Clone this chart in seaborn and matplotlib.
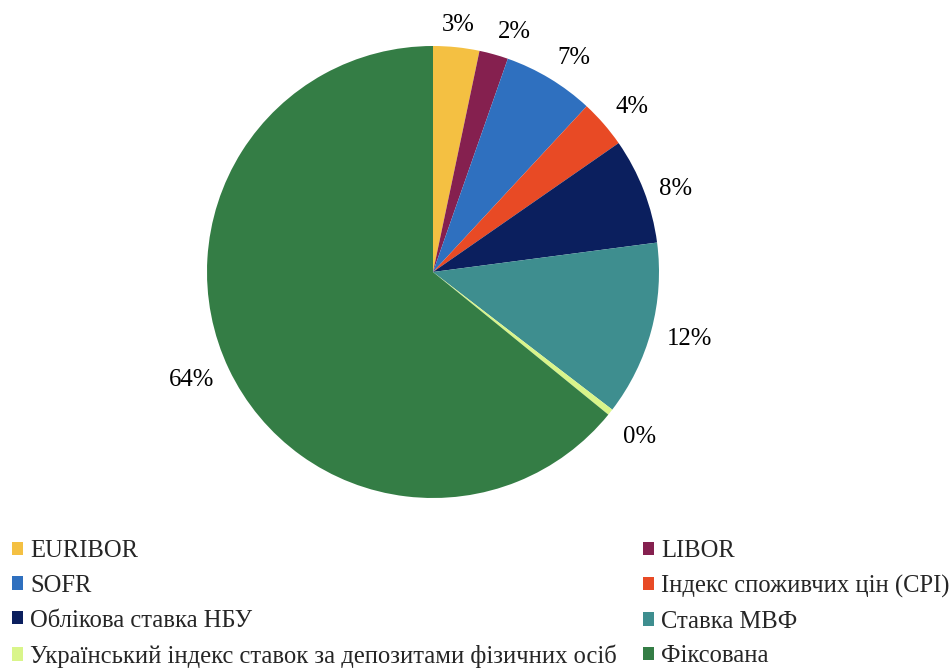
import matplotlib
matplotlib.use("Agg")
import numpy as np
import matplotlib.pyplot as plt
from matplotlib.patches import Patch
import seaborn as sns

categories = ["EURIBOR", "LIBOR", "SOFR", "Індекс споживчих цін (CPI)",
              "Облікова ставка НБУ", "Ставка МВФ",
              "Український індекс ставок за депозитами фізичних осіб", "Фіксована"]
shares = [3.30, 2.07, 6.53, 3.44, 7.58, 12.5, 0.45, 64.13]
pct_labels = ["3%", "2%", "7%", "4%", "8%", "12%", "0%", "64%"]
colors = ["#F4C042", "#85204F", "#2F70BF", "#E84A25",
          "#0B1F5E", "#3E8E8F", "#D9F58A", "#347D45"]

sns.set_theme(style="white")
plt.rcParams["font.family"] = ["Liberation Serif", "DejaVu Serif"]

fig = plt.figure(figsize=(9.5, 6.7), dpi=100)
cx, cy, r = 433 / 950, (670 - 272) / 670, 226
ax = fig.add_axes([cx - r / 950, cy - r / 670, 2 * r / 950, 2 * r / 670])
wedges, _ = ax.pie(shares, colors=colors, startangle=90,
                   counterclock=False, wedgeprops=dict(linewidth=0))
for w, lab in zip(wedges, pct_labels):
    mid = np.deg2rad((w.theta1 + w.theta2) / 2)
    ux, uy = np.cos(mid), np.sin(mid)
    ha = "left" if ux > 0.2 else ("right" if ux < -0.2 else "center")
    va = "bottom" if uy > 0.5 else ("top" if uy < -0.5 else "center")
    ax.annotate(lab, (1.07 * ux, 1.07 * uy), xytext=(0, -3), textcoords="offset points",
                ha=ha, va=va, fontsize=17.8, color="black", annotation_clip=False)
ax.set_xlim(-1, 1)
ax.set_ylim(-1, 1)
ax.set_aspect("equal")
ax.axis("off")

handles = [Patch(facecolor=c, edgecolor="none") for c in colors]
common = dict(frameon=False, fontsize=17.7, handlelength=0.45, handleheight=0.45,
              handletextpad=0.3, labelspacing=0.52, borderpad=0, borderaxespad=0,
              loc="upper left")
fig.legend([handles[i] for i in (0, 2, 4, 6)], [categories[i] for i in (0, 2, 4, 6)],
           bbox_to_anchor=(12 / 950, (670 - 540) / 670), **common)
fig.legend([handles[i] for i in (1, 3, 5, 7)], [categories[i] for i in (1, 3, 5, 7)],
           bbox_to_anchor=(643 / 950, (670 - 540) / 670), **common)

fig.savefig("out.png", dpi=100, facecolor="white")
